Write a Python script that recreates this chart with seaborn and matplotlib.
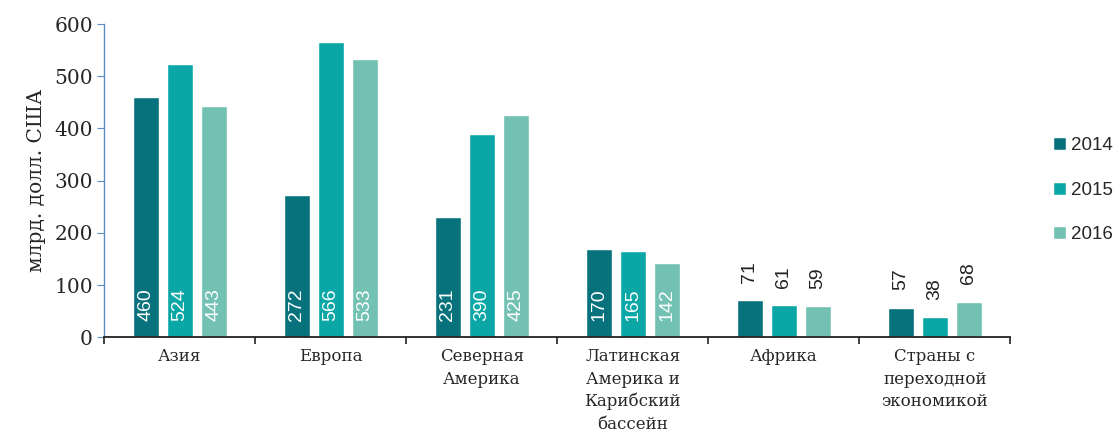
import pandas as pd
import matplotlib.pyplot as plt
import seaborn as sns

# Данные
regions = ['Азия', 'Европа', 'Северная\nАмерика', 'Латинская\nАмерика и\nКарибский\nбассейн',
           'Африка', 'Страны с\nпереходной\nэкономикой']
years = ['2014', '2015', '2016']
v2014 = [460, 272, 231, 170, 71, 57]
v2015 = [524, 566, 390, 165, 61, 38]
v2016 = [443, 533, 425, 142, 59, 68]
inside = [True, True, True, True, False, False]  # подписи внутри столбцов

colors = ['#07727B', '#0AA7A6', '#72C1B3']

df = pd.DataFrame({
    'region': regions * 3,
    'year': [y for y in years for _ in regions],
    'value': v2014 + v2015 + v2016,
})

sns.set_style('white')
fig, ax = plt.subplots(figsize=(11.19, 4.38), dpi=100)
fig.subplots_adjust(left=0.093, right=0.903, top=0.945, bottom=0.23)

sns.barplot(data=df, x='region', y='value', hue='year', palette=colors,
            width=0.675, gap=0.23, ax=ax, saturation=1, errorbar=None)

# Подписи значений
for cont in ax.containers:
    for i, bar in enumerate(cont):
        h = bar.get_height()
        xc = bar.get_x() + bar.get_width() / 2
        if inside[i]:
            ax.text(xc, 32, f'{h:.0f}', rotation=90, ha='center', va='bottom',
                    color='white', fontsize=14, family='Liberation Sans')
        else:
            ax.annotate(f'{h:.0f}', (xc, h), xytext=(0, 12.5), textcoords='offset points',
                        rotation=90, ha='center', va='bottom', color='#222222',
                        fontsize=14, family='Liberation Sans')

ax.set_ylim(0, 600)
ax.set_xlim(-0.5, 5.5)
ax.set_yticks(range(0, 601, 100))
ax.tick_params(axis='y', left=True, labelsize=14.5, length=5, color='#5B8DBE', pad=3)
for t in ax.get_yticklabels():
    t.set_family('DejaVu Serif')

# Деления между группами
ax.set_xticks(range(6))
ax.set_xticks([i + 0.5 for i in range(-1, 6)], minor=True)
ax.tick_params(axis='x', which='both', bottom=True)
ax.tick_params(axis='x', which='minor', length=5, width=1.2, color='#222222', direction='out')
ax.tick_params(axis='x', which='major', length=0, pad=8)
ax.set_xticklabels(regions, fontsize=12, family='DejaVu Serif', linespacing=1.4, va='top')

ax.set_xlabel('')
ax.set_ylabel('млрд. долл. США', fontsize=14.5, family='DejaVu Serif', labelpad=6)

for s in ['top', 'right']:
    ax.spines[s].set_visible(False)
ax.spines['left'].set_color('#5B8DBE')
ax.spines['left'].set_linewidth(1)
ax.spines['bottom'].set_color('#222222')
ax.spines['bottom'].set_linewidth(1.3)

ax.legend(loc='center left', bbox_to_anchor=(1.028, 0.47), frameon=False,
          prop={'family': 'Liberation Sans', 'size': 13.5}, labelspacing=1.45,
          handlelength=0.7, handleheight=0.7, handletextpad=0.3)

plt.savefig('out.png', dpi=100)
plt.close()
